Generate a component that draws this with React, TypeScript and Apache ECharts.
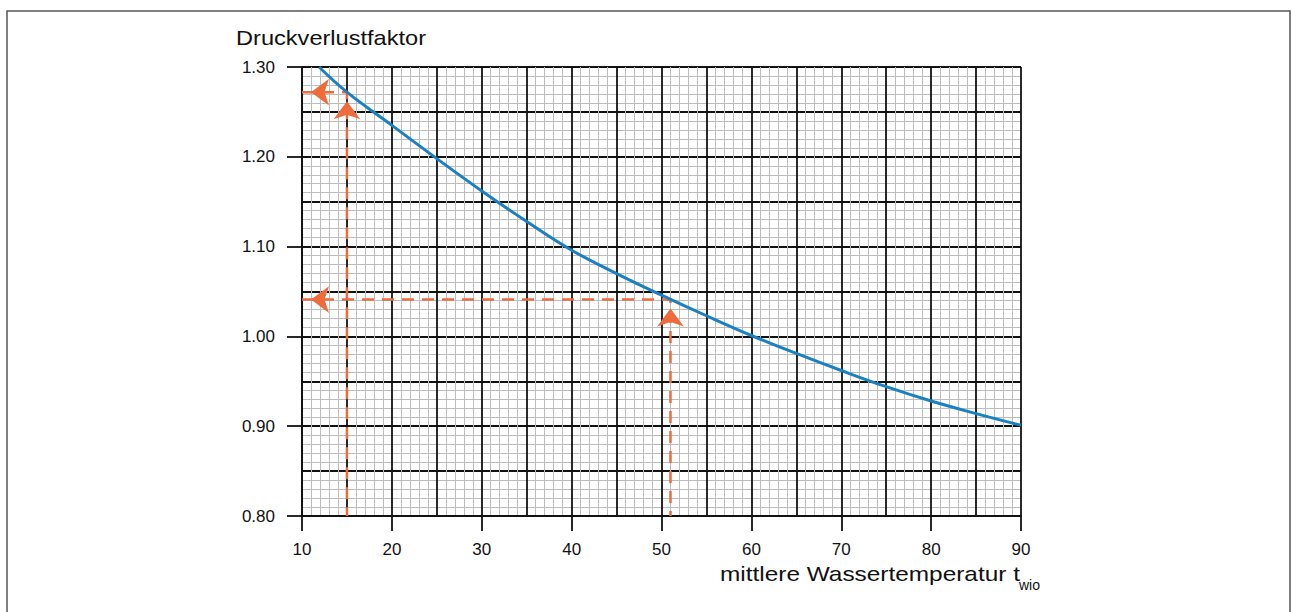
import React, { useEffect, useRef } from "react";
import * as echarts from "echarts";

// Curve: mittlere Wassertemperatur (°C) -> Druckverlustfaktor
const temps = [11.9, 15, 20, 25, 30, 35, 40, 45, 50, 55, 60, 65, 70, 75, 80, 85, 90];
const factors = [1.3, 1.272, 1.235, 1.198, 1.162, 1.128, 1.096, 1.07, 1.046, 1.023, 1.001, 0.981, 0.962, 0.944, 0.928, 0.914, 0.901];

// Reading examples (dashed guides)
const guideA = [[10, 1.272], [15, 1.272], [15, 0.8]];
const guideB = [[10, 1.041], [51, 1.041], [51, 0.8]];
const upArrows = [[15, 1.272], [51, 1.041]];
const leftArrows = [[10, 1.272], [10, 1.041]];

const xMin = 10, xMax = 90;
const yMin = 0.8, yMax = 1.3;

const FONT = "'Liberation Sans', Arial, Helvetica, sans-serif";
const BLUE = "#1a80c4";
const ORANGE = "#f06b3c";
const BLACK = "#111111";
const MINOR = "#bdbdbd";

export default function App() {
  const ref = useRef<HTMLDivElement>(null);
  useEffect(() => {
    const chart = echarts.init(ref.current!, null, { renderer: "svg" });
    const curve = temps.map((t, i) => [t, factors[i]]);
    chart.setOption({
      animation: false,
      backgroundColor: "#fff",
      grid: { left: 302, right: 271, top: 67, bottom: 96, containLabel: false },
      xAxis: [
        {
          type: "value", min: xMin, max: xMax, interval: 5, position: "bottom",
          axisLabel: { show: false }, axisTick: { show: false }, axisLine: { show: false },
          splitLine: { show: true, lineStyle: { color: BLACK, width: 1.8 } },
          minorTick: { show: false, splitNumber: 5 },
          minorSplitLine: { show: true, lineStyle: { color: MINOR, width: 1 } },
        },
        {
          type: "value", min: xMin, max: xMax, interval: 10, position: "bottom",
          axisLine: { show: true, lineStyle: { color: BLACK, width: 1.8 } },
          axisTick: { show: true, length: 15, inside: false, lineStyle: { color: BLACK, width: 1.8 } },
          axisLabel: { show: true, margin: 25, fontSize: 17, color: "#111", fontFamily: FONT },
          splitLine: { show: false },
        },
      ],
      yAxis: [
        {
          type: "value", min: yMin, max: yMax, interval: 0.05, position: "left",
          axisLabel: { show: false }, axisTick: { show: false }, axisLine: { show: false },
          splitLine: { show: true, lineStyle: { color: BLACK, width: 1.8 } },
          minorTick: { show: false, splitNumber: 5 },
          minorSplitLine: { show: true, lineStyle: { color: MINOR, width: 1 } },
        },
        {
          type: "value", min: yMin, max: yMax, interval: 0.1, position: "left",
          axisLine: { show: true, lineStyle: { color: BLACK, width: 1.8 } },
          axisTick: { show: true, length: 15, inside: false, lineStyle: { color: BLACK, width: 1.8 } },
          axisLabel: {
            show: true, margin: 27, fontSize: 17, color: "#111", fontFamily: FONT,
            formatter: (v: number) => v.toFixed(2),
          },
          splitLine: { show: false },
        },
      ],
      series: [
        {
          type: "line", xAxisIndex: 0, yAxisIndex: 0, data: guideA, showSymbol: false, symbol: "none",
          lineStyle: { color: ORANGE, width: 2.5, type: [12, 8] }, z: 3, silent: true,
        },
        {
          type: "line", xAxisIndex: 0, yAxisIndex: 0, data: guideB, showSymbol: false, symbol: "none",
          lineStyle: { color: ORANGE, width: 2.5, type: [12, 8] }, z: 3, silent: true,
        },
        {
          type: "line", xAxisIndex: 0, yAxisIndex: 0, data: curve, showSymbol: false, symbol: "none",
          smooth: 0.4, lineStyle: { color: BLUE, width: 3 }, z: 4, silent: true,
        },
        {
          type: "scatter", xAxisIndex: 0, yAxisIndex: 0, data: upArrows, symbol: "arrow",
          symbolSize: [20, 18], symbolOffset: [0, 9], symbolRotate: 0,
          itemStyle: { color: ORANGE, opacity: 1 }, z: 5, silent: true,
        },
        {
          type: "scatter", xAxisIndex: 0, yAxisIndex: 0, data: leftArrows, symbol: "arrow",
          symbolSize: [20, 18], symbolOffset: [9, 0], symbolRotate: 90,
          itemStyle: { color: ORANGE, opacity: 1 }, z: 5, silent: true,
        },
      ],
      graphic: [
        {
          type: "rect", silent: true, z: -1,
          shape: { x: 7, y: 11, width: 1283, height: 620 },
          style: { fill: "none", stroke: "#555", lineWidth: 1.5 },
        },
        {
          type: "text", x: 236, y: 38, scaleX: 1.18,
          style: { text: "Druckverlustfaktor", font: `20px ${FONT}`, fill: "#111", align: "left", verticalAlign: "middle" },
        },
        {
          type: "text", x: 720, y: 574, scaleX: 1.22,
          style: { text: "mittlere Wassertemperatur t", font: `20px ${FONT}`, fill: "#111", align: "left", verticalAlign: "middle" },
        },
        {
          type: "text", x: 1019, y: 584.5, scaleX: 1.0,
          style: { text: "wio", font: `14px ${FONT}`, fill: "#111", align: "left", verticalAlign: "middle" },
        },
      ],
    });
    return () => chart.dispose();
  }, []);
  return (
    <div
      ref={ref}
      style={{ position: "fixed", left: 0, top: 0, width: 1292, height: 612, background: "#fff" }}
    />
  );
}
